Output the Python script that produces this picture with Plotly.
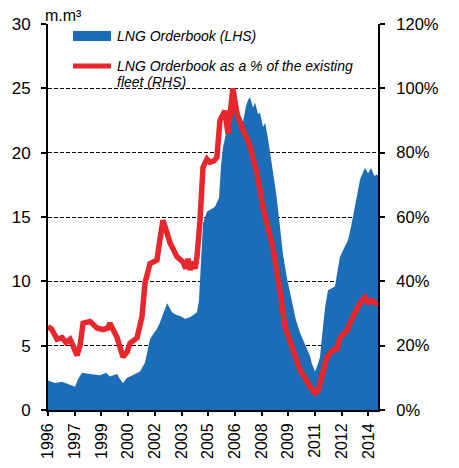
import plotly.graph_objects as go

# ---- data (decimal years) ----
orderbook_years = [1996.00, 1996.39, 1996.79, 1997.12, 1997.52, 1997.69, 1997.91, 1998.36, 1998.92, 1999.26,
                   1999.48, 1999.88, 2000.04, 2000.21, 2000.44, 2000.61, 2000.89, 2001.17, 2001.45, 2001.73,
                   2001.96, 2002.12, 2002.29, 2002.46, 2002.69, 2002.97, 2003.19, 2003.42, 2003.70, 2003.98,
                   2004.20, 2004.37, 2004.48, 2004.60, 2004.71, 2004.93, 2005.16, 2005.38, 2005.61, 2005.72,
                   2005.83, 2006.00, 2006.11, 2006.22, 2006.39, 2006.56, 2006.67, 2006.84, 2006.96, 2007.12,
                   2007.24, 2007.35, 2007.52, 2007.63, 2007.80, 2007.91, 2008.08, 2008.20, 2008.37, 2008.48,
                   2008.65, 2008.82, 2008.93, 2009.10, 2009.21, 2009.43, 2009.71, 2009.93, 2010.16, 2010.38,
                   2010.55, 2010.72, 2010.83, 2011.00, 2011.17, 2011.28, 2011.40, 2011.57, 2011.73, 2011.96,
                   2012.12, 2012.29, 2012.40, 2012.57, 2012.74, 2012.85, 2013.02, 2013.25, 2013.42, 2013.53,
                   2013.70, 2013.81, 2013.98, 2014.15, 2014.33, 2014.54]
orderbook_mm3 = [2.3, 2.1, 2.2, 2.0, 1.8, 2.4, 2.9, 2.8, 2.7, 2.9,
                 2.6, 2.8, 2.4, 2.1, 2.5, 2.6, 2.8, 3.0, 3.7, 5.5,
                 6.0, 6.3, 6.8, 7.5, 8.3, 7.6, 7.4, 7.3, 7.1, 7.2,
                 7.4, 7.6, 8.5, 11.5, 14.5, 15.4, 15.6, 15.8, 16.5, 19.0,
                 20.4, 21.5, 22.8, 22.2, 23.5, 23.2, 23.6, 22.6, 22.4, 23.6,
                 24.1, 24.3, 23.5, 23.9, 23.0, 23.1, 22.0, 22.3, 21.0, 20.0,
                 18.6, 16.8, 15.5, 13.3, 12.0, 10.2, 8.5, 7.0, 6.0, 5.3,
                 4.7, 4.2, 3.6, 3.0, 3.6, 4.1, 5.8, 8.0, 9.3, 9.5,
                 9.6, 11.0, 11.9, 12.4, 12.9, 13.2, 14.2, 15.8, 17.0, 17.9,
                 18.5, 18.8, 18.4, 18.8, 18.2, 18.3]

pct_years = [1996.00, 1996.22, 1996.51, 1996.79, 1997.01, 1997.24, 1997.40, 1997.63, 1997.80, 1997.97,
             1998.36, 1998.75, 1999.09, 1999.37, 1999.48, 1999.71, 1999.88, 2000.21, 2000.44, 2000.61,
             2001.00, 2001.28, 2001.45, 2001.73, 2002.12, 2002.29, 2002.46, 2002.69, 2002.85, 2003.25,
             2003.58, 2003.75, 2003.87, 2003.98, 2004.09, 2004.26, 2004.37, 2004.54, 2004.71, 2004.93,
             2005.10, 2005.33, 2005.49, 2005.66, 2005.94, 2006.11, 2006.28, 2006.39, 2006.62, 2006.79,
             2006.96, 2007.18, 2007.35, 2007.58, 2007.74, 2008.08, 2008.26, 2008.48, 2008.65, 2008.87,
             2009.04, 2009.31, 2009.60, 2009.76, 2009.99, 2010.16, 2010.44, 2010.72, 2011.00, 2011.17,
             2011.28, 2011.45, 2011.67, 2012.01, 2012.23, 2012.40, 2012.80, 2013.13, 2013.53, 2013.81,
             2013.98, 2014.20, 2014.38, 2014.54]
pct_of_fleet = [26, 25, 22, 22.5, 21, 22, 20, 17, 20, 27,
                27.5, 25.5, 25, 25.5, 27, 24, 22.5, 16.5, 18, 20.8,
                22.4, 29, 39.5, 45.5, 46.6, 53, 59, 55, 52, 47.6,
                46, 44, 47, 43.5, 46, 44, 47.6, 59, 75.5, 78,
                77, 77.5, 78.6, 90, 93, 86, 95, 100, 92, 89,
                87, 84.5, 82, 77, 73.6, 63, 58, 54, 50, 43,
                37, 26, 21, 18.7, 15, 12.4, 10, 7.2, 5.3, 6,
                8.4, 12, 16.5, 18.7, 19, 22.4, 24.9, 29, 33.3, 35.1,
                33.5, 34, 33.5, 32.7]

x_tick_vals = [1996, 1997.5, 1999, 2000.5, 2002, 2003.5, 2005, 2006.5, 2008, 2009.5, 2011, 2012.5, 2014]
x_tick_text = ["1996", "1997", "1999", "2000", "2002", "2003", "2005", "2006", "2008", "2009", "2011", "2012", "2014"]
lhs_ticks = [0, 5, 10, 15, 20, 25, 30]
rhs_ticks = [0, 20, 40, 60, 80, 100, 120]
rhs_tick_text = ["0%", "20%", "40%", "60%", "80%", "100%", "120%"]

BLUE = "#1a6db6"
RED = "#e8262b"
FONT = "Liberation Sans, Arial, sans-serif"

fig = go.Figure()
fig.add_trace(go.Scatter(x=orderbook_years, y=orderbook_mm3, mode="lines", fill="tozeroy",
                         fillcolor=BLUE, line=dict(width=0, color=BLUE),
                         name="LNG Orderbook (LHS)", showlegend=False))
fig.add_trace(go.Scatter(x=pct_years, y=pct_of_fleet, mode="lines", yaxis="y2",
                         line=dict(width=5.5, color=RED),
                         name="LNG Orderbook as a % of the existing fleet (RHS)", showlegend=False))

axis_common = dict(showline=True, linecolor="black", linewidth=2, ticks="outside",
                   tickcolor="black", tickwidth=1.5, zeroline=False)

# page has an 8px body margin, so the figure is sized/offset to land on the reference pixels
fig.update_layout(
    width=443, height=452,
    margin=dict(l=40, r=73, t=16, b=50, autoexpand=False),
    paper_bgcolor="white", plot_bgcolor="white",
    showlegend=False,
    xaxis=dict(range=[1996, 2014.54], tickvals=x_tick_vals, ticktext=x_tick_text,
               tickangle=-90, ticklen=4, showgrid=False, ticklabelstandoff=1,
               tickfont=dict(family=FONT, size=16, color="black"), **axis_common),
    yaxis=dict(range=[0, 30], tickvals=lhs_ticks, ticklen=5, showgrid=True,
               gridcolor="black", gridwidth=1.2, griddash="4px,2px", ticklabelstandoff=7,
               tickfont=dict(family=FONT, size=17, color="black"), **axis_common),
    yaxis2=dict(range=[0, 120], tickvals=rhs_ticks, ticktext=rhs_tick_text, ticklen=5,
                overlaying="y", side="right", showgrid=False, ticklabelstandoff=8,
                tickfont=dict(family=FONT, size=16.5, color="black"), **axis_common),
)

def px_x(p):
    return (p - 48) / 330.0

def px_y(p):
    return (410 - p) / 386.0

# legend (manual)
fig.add_shape(type="rect", xref="paper", yref="paper",
              x0=px_x(73), x1=px_x(111), y0=px_y(41), y1=px_y(31),
              fillcolor=BLUE, line=dict(width=0))
fig.add_shape(type="line", xref="paper", yref="paper",
              x0=px_x(73), x1=px_x(111), y0=px_y(66), y1=px_y(66),
              line=dict(color=RED, width=5))
legend_font = dict(family=FONT, size=14, color="black", style="italic")
fig.add_annotation(text="LNG Orderbook (LHS)", xref="paper", yref="paper",
                   x=px_x(115), y=px_y(36), xanchor="left", yanchor="middle",
                   showarrow=False, font=legend_font)
fig.add_annotation(text="LNG Orderbook as a % of the existing", xref="paper", yref="paper",
                   x=px_x(115), y=px_y(66), xanchor="left", yanchor="middle",
                   showarrow=False, font=legend_font)
fig.add_annotation(text="fleet (RHS)", xref="paper", yref="paper",
                   x=px_x(115), y=px_y(82), xanchor="left", yanchor="middle",
                   showarrow=False, font=legend_font)
fig.add_annotation(text="m.m³", xref="paper", yref="paper",
                   x=px_x(43), y=px_y(16), xanchor="left", yanchor="middle",
                   showarrow=False, font=dict(family=FONT, size=16, color="black"))

fig.write_html("out.html")
